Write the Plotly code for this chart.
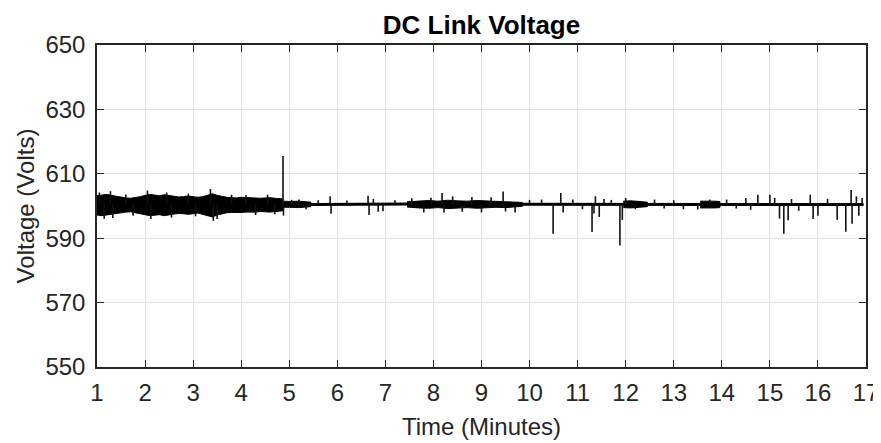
import plotly.graph_objects as go

# noisy band envelope (upper / lower edge)
band1_t = [1.0, 1.1, 1.2, 1.3, 1.4, 1.5, 1.6, 1.7, 1.8, 1.9, 2.0, 2.1, 2.2, 2.3,
           2.4, 2.5, 2.6, 2.7, 2.8, 2.9, 3.0, 3.1, 3.2, 3.3, 3.4, 3.5, 3.6, 3.7,
           3.8, 3.9, 4.0, 4.1, 4.2, 4.3, 4.4, 4.5, 4.6, 4.7, 4.8, 4.86]
band1_hi = [603.2, 603.4, 603.6, 603.3, 603.0, 602.8, 602.5, 602.4, 602.6, 602.9,
            603.3, 603.6, 603.4, 603.2, 603.5, 603.3, 603.0, 602.8, 602.9, 603.1,
            602.9, 602.7, 602.9, 603.4, 603.8, 603.3, 602.9, 602.7, 602.6, 602.5,
            602.7, 602.6, 602.5, 602.6, 602.4, 602.5, 602.6, 602.4, 602.3, 602.2]
band1_lo = [597.2, 597.0, 597.2, 597.4, 597.6, 597.9, 598.1, 598.2, 598.0, 597.6,
            597.3, 597.0, 597.1, 597.3, 597.0, 597.2, 597.5, 597.7, 597.6, 597.4,
            597.6, 597.8, 597.5, 597.0, 596.6, 597.2, 597.6, 597.9, 598.0, 598.1,
            598.0, 598.1, 598.2, 598.1, 598.3, 598.2, 598.1, 598.3, 598.4, 598.5]

band2_t = [4.88, 5.0, 5.2, 5.45]
band2_hi = [601.5, 601.4, 601.5, 601.2]
band2_lo = [599.6, 599.6, 599.5, 599.8]

band3_t = [7.45, 7.7, 7.9, 8.1, 8.3, 8.5, 8.7, 8.9, 9.1, 9.3, 9.5, 9.7, 9.85]
band3_hi = [601.3, 601.6, 601.7, 601.5, 601.8, 601.6, 601.5, 601.7, 601.6, 601.4, 601.5, 601.3, 601.1]
band3_lo = [599.7, 599.4, 599.3, 599.5, 599.2, 599.4, 599.5, 599.3, 599.4, 599.6, 599.5, 599.7, 599.9]

band4_t = [11.95, 12.1, 12.3, 12.45]
band4_hi = [601.5, 601.6, 601.4, 601.2]
band4_lo = [599.5, 599.4, 599.6, 599.8]

band5_t = [13.55, 13.7, 13.85, 13.96]
band5_hi = [601.5, 601.6, 601.5, 601.4]
band5_lo = [599.4, 599.3, 599.4, 599.5]

# steady part of the trace after the transient
base_t = [4.86, 5.5, 7.5, 9.8, 12.0, 14.0, 16.95]
base_v = [600.6, 600.5, 600.6, 600.5, 600.6, 600.5, 600.5]

# individual spikes (time, peak voltage)
spike_t = [1.05, 1.15, 1.28, 1.33, 1.6, 1.75, 2.05, 2.12, 2.45, 2.55, 2.9, 3.05,
           3.36, 3.42, 3.5, 3.8, 4.1, 4.3, 4.55, 4.7, 4.87, 4.88,
           5.05, 5.2, 5.35, 5.6, 5.85, 5.87, 6.2, 6.64, 6.66, 6.75, 6.85, 6.95, 7.2,
           7.55, 7.8, 7.95, 8.18, 8.22, 8.4, 8.6, 8.8, 9.0, 9.2, 9.45, 9.5, 9.7,
           10.0, 10.25, 10.49, 10.65, 10.7, 10.9, 11.1, 11.3, 11.34, 11.37, 11.45, 11.55,
           11.7, 11.88, 11.93, 12.0, 12.2, 12.6, 12.8, 13.0, 13.2, 13.5, 13.75, 14.1,
           14.3, 14.5, 14.6, 14.75, 15.0, 15.1, 15.2, 15.29, 15.38, 15.45, 15.6, 15.84,
           15.9, 16.0, 16.2, 16.4, 16.58, 16.69, 16.71, 16.8, 16.85, 16.92]
spike_v = [604.2, 596.0, 604.6, 596.3, 603.6, 597.0, 604.8, 596.0, 604.2, 596.4, 603.8, 596.8,
           605.3, 595.4, 596.0, 603.5, 603.4, 597.2, 603.5, 597.4, 615.5, 597.0,
           601.9, 602.0, 599.0, 601.8, 603.0, 597.6, 601.7, 603.2, 597.2, 602.2, 598.2, 598.4, 601.8,
           602.4, 598.0, 602.6, 604.0, 598.0, 603.0, 598.2, 602.8, 598.0, 602.7, 604.5, 598.3, 598.0,
           601.9, 602.0, 591.4, 604.0, 598.0, 602.0, 599.0, 591.9, 597.7, 603.0, 596.6, 602.2,
           601.9, 587.7, 595.7, 602.5, 599.0, 602.0, 599.2, 601.8, 599.0, 598.9, 602.0, 602.0,
           599.2, 602.5, 598.8, 603.5, 603.5, 602.5, 596.1, 591.4, 595.6, 602.2, 598.5, 603.5,
           596.0, 597.0, 602.2, 595.7, 592.0, 605.0, 594.5, 603.0, 597.0, 602.5]

x_ticks = list(range(1, 18))
y_ticks = [550, 570, 590, 610, 630, 650]

fig = go.Figure()

# filled bands for the noisy stretches
for t, hi, lo in [(band1_t, band1_hi, band1_lo), (band2_t, band2_hi, band2_lo),
                  (band3_t, band3_hi, band3_lo), (band4_t, band4_hi, band4_lo),
                  (band5_t, band5_hi, band5_lo)]:
    fig.add_trace(go.Scatter(
        x=t + t[::-1], y=hi + lo[::-1],
        fill='toself', fillcolor='black', mode='lines',
        line=dict(color='black', width=1), hoverinfo='skip'
    ))

fig.add_trace(go.Scatter(x=base_t, y=base_v, mode='lines',
                         line=dict(color='black', width=3)))

# spikes drawn as vertical strokes from the running level
sx, sy = [], []
for t, v in zip(spike_t, spike_v):
    sx += [t, t, None]
    sy += [600.5, v, None]
fig.add_trace(go.Scatter(x=sx, y=sy, mode='lines',
                         line=dict(color='#111111', width=1.6)))

axis_style = dict(
    ticks='inside', ticklen=7, tickwidth=1, tickcolor='#262626',
    showline=True, linecolor='#262626', linewidth=1.5, mirror='ticks',
    showgrid=True, gridcolor='#e2e2e2', gridwidth=1, zeroline=False,
    automargin=False,
    tickfont=dict(size=24, color='#262626'),
)

fig.update_xaxes(range=[1, 17], tickvals=x_ticks, ticklabelstandoff=3,
                 title=dict(text='Time (Minutes)', standoff=14,
                            font=dict(size=24, color='#262626')),
                 **axis_style)
fig.update_yaxes(range=[550, 650], tickvals=y_ticks, ticklabelstandoff=5,
                 title=dict(text='Voltage (Volts)', standoff=4,
                            font=dict(size=24, color='#262626')),
                 **axis_style)

# page body adds an 8px offset, so the figure is sized to fit inside it
fig.update_layout(
    width=873, height=435,
    margin=dict(l=89, r=15, t=37, b=76),
    plot_bgcolor='white', paper_bgcolor='white',
    showlegend=False,
    font=dict(family='Liberation Sans, Arial, sans-serif', color='#262626'),
    title=dict(text='<b>DC Link Voltage</b>', x=0.5, xref='paper',
               y=1 - 17 / 435, yref='container', yanchor='middle',
               font=dict(size=26, color='black')),
)

fig.write_html("out.html")
